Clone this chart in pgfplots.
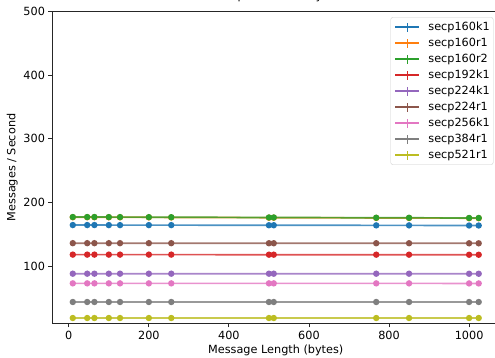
\documentclass[border=0pt]{standalone}
\usepackage{pgfplots}
\pgfplotsset{compat=1.18}
\usepackage{fontspec}
\setmainfont{DejaVu Sans}
\definecolor{c0}{HTML}{1F77B4}
\definecolor{c1}{HTML}{FF7F0E}
\definecolor{c2}{HTML}{2CA02C}
\definecolor{c3}{HTML}{D62728}
\definecolor{c4}{HTML}{9467BD}
\definecolor{c5}{HTML}{8C564B}
\definecolor{c6}{HTML}{E377C2}
\definecolor{c7}{HTML}{7F7F7F}
\definecolor{c8}{HTML}{BCBD22}
\pgfplotstableread{
x    k160   r160   r2160  k192   k224  r224   k256  r384  r521
10   164.5  176.8  177.1  118.0  88.0  136.0  72.8  43.5  18.3
46   164.5  176.8  177.1  118.0  88.0  136.0  72.8  43.5  18.3
64   164.5  176.8  177.1  118.0  88.0  136.0  72.8  43.5  18.3
100  164.4  176.7  177.0  118.0  88.0  136.0  72.8  43.5  18.3
128  164.4  176.7  177.0  118.0  88.0  136.0  72.8  43.5  18.3
200  164.4  176.6  176.9  118.0  88.0  136.0  72.8  43.5  18.3
256  164.4  176.5  176.8  118.0  88.0  136.0  72.8  43.5  18.3
500  164.2  176.1  176.4  117.9  88.0  135.9  72.8  43.5  18.3
512  164.2  176.1  176.4  117.9  88.0  135.9  72.8  43.5  18.3
768  164.0  175.7  176.0  117.9  88.0  135.9  72.8  43.5  18.3
850  164.0  175.6  175.9  117.9  88.0  135.9  72.8  43.5  18.3
1000 163.8  175.3  175.6  117.8  87.9  135.8  72.7  43.5  18.3
1024 163.8  175.3  175.6  117.8  87.9  135.8  72.7  43.5  18.3
}\data
\begin{document}
\begin{tikzpicture}[font=\fontsize{11.3}{13.6}\selectfont]
\begin{axis}[
  at={(0,0)}, anchor=south west,
  scale only axis, width=446.5bp, height=311.6bp,
  xmin=-40.7, xmax=1074.7, ymin=10, ymax=500,
  xtick={0,200,400,600,800,1000},
  ytick={100,200,300,400,500},
  xtick pos=bottom, ytick pos=left,
  tick align=outside, major tick length=4bp,
  axis line style={line width=0.9bp, black!85},
  every tick/.style={line width=0.9bp, black!85},
  /pgf/number format/assume math mode=true,
  /pgf/number format/1000 sep={},
  title={OpenSSL - Verify},
  title style={at={(0.5,1)}, anchor=base, yshift=6.7bp, inner sep=0pt},
  xlabel={Message Length (bytes)},
  ylabel={Messages / Second},
  xlabel style={at={(axis description cs:0.5,0)}, anchor=base, yshift=-29.7bp, inner sep=0pt},
  ylabel style={at={(axis description cs:-0.0829,0.5)}, anchor=base, inner sep=0pt},
  legend cell align=left,
  legend style={at={(1,1)}, anchor=north east, xshift=-5.6bp, yshift=-5.6bp,
    draw=black!20, rounded corners=2bp, fill=white, fill opacity=0.8, text opacity=1,
    inner xsep=3.5bp, inner ysep=4bp, row sep=5bp,
    nodes={inner sep=0pt, text height=8.5bp, text depth=2.5bp}},
  legend image code/.code={
    \draw[line width=1.6bp, draw opacity=1] (0bp,0bp) -- (24bp,0bp);
    \draw[line width=1.1bp, draw opacity=1] (12bp,-4.5bp) -- (12bp,4.5bp);
    \path (32.5bp,0bp);
  },
  every axis plot/.append style={line width=1.7bp, draw opacity=0.8, mark=*, mark size=2.3bp,
    mark options={solid, draw opacity=1, fill opacity=1}},
]
\addplot[c0] table[x=x,y=k160] {\data}; \addlegendentry{secp160k1}
\addplot[c1] table[x=x,y=r160] {\data}; \addlegendentry{secp160r1}
\addplot[c2] table[x=x,y=r2160] {\data}; \addlegendentry{secp160r2}
\addplot[c3] table[x=x,y=k192] {\data}; \addlegendentry{secp192k1}
\addplot[c4] table[x=x,y=k224] {\data}; \addlegendentry{secp224k1}
\addplot[c5] table[x=x,y=r224] {\data}; \addlegendentry{secp224r1}
\addplot[c6] table[x=x,y=k256] {\data}; \addlegendentry{secp256k1}
\addplot[c7] table[x=x,y=r384] {\data}; \addlegendentry{secp384r1}
\addplot[c8] table[x=x,y=r521] {\data}; \addlegendentry{secp521r1}
\end{axis}
\pgfresetboundingbox
\path[use as bounding box] (-52.5bp,-34.7bp) rectangle (442.5bp,323.3bp);
\end{tikzpicture}
\end{document}
